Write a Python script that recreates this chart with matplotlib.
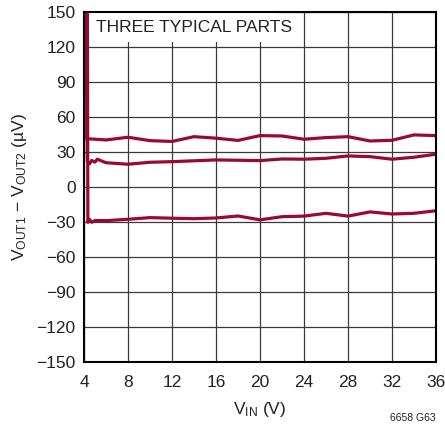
import matplotlib
matplotlib.use("Agg")
import matplotlib.pyplot as plt
from matplotlib.patches import Rectangle

plt.rcParams['font.family'] = ['Liberation Sans Narrow', 'Liberation Sans', 'DejaVu Sans']

# data (VIN in V, offset in uV)
vin_a = [4.2, 4.25, 4.5, 6, 8, 10, 12, 14, 16, 18, 20, 22, 24, 26, 28, 30, 32, 34, 36]
part_a = [170, 41, 41.4, 40.5, 42.8, 39.9, 39.2, 43.3, 42.0, 40.1, 44.2, 43.9, 41.1,
          42.5, 43.3, 39.6, 40.2, 44.8, 44.2]

vin_b = [4.25, 4.3, 4.5, 4.7, 5.0, 5.2, 6, 8, 10, 12, 16, 20, 22, 24, 26, 28, 30, 32, 34, 36]
part_b = [170, 22, 20, 23, 21.5, 24, 21, 19.7, 21.4, 21.9, 23.4, 22.8, 24.2, 24.0,
          24.8, 26.8, 26.2, 24.0, 25.7, 28.3]

vin_c = [4.3, 4.35, 4.5, 4.7, 5.0, 6, 8, 10, 12, 14, 16, 18, 20, 22, 24, 26, 28, 30, 32, 34, 36]
part_c = [170, -30, -27.5, -30, -28.5, -28.6, -27.4, -26.0, -26.5, -26.9, -26.3, -24.6,
          -27.9, -25.2, -24.7, -22.3, -24.7, -21.1, -22.9, -22.3, -20.1]

xticks = [4, 8, 12, 16, 20, 24, 28, 32, 36]
yticks = list(range(-150, 151, 30))

red = '#990a33'

fig = plt.figure(figsize=(4.45, 4.32), dpi=100)
ax = fig.add_axes([0.1888, 0.1609, 0.7910, 0.8113])

ax.set_axisbelow(True)
ax.grid(True, color='#3a3a3a', linewidth=0.9)

# title box hides the grid behind it
ax.add_patch(Rectangle((4, 124.5), 17.6, 30, facecolor='white', edgecolor='none', zorder=1))
ax.text(5.1, 137, 'THREE TYPICAL PARTS', fontsize=12.5, va='center', ha='left', zorder=3,
        color='#222222')

for v, p in [(vin_a, part_a), (vin_b, part_b), (vin_c, part_c)]:
    ax.plot(v, p, color=red, linewidth=2.3, zorder=2, solid_joinstyle='round')

ax.set_xlim(4, 36)
ax.set_ylim(-150, 150)
ax.set_xticks(xticks)
ax.set_yticks(yticks)
ax.set_yticklabels([str(t).replace('-', '\u2212') for t in yticks])
ax.tick_params(length=0, labelsize=12.5, colors='#222222')
ax.tick_params(axis='x', pad=9)
ax.tick_params(axis='y', pad=6)

for s in ax.spines.values():
    s.set_linewidth(1.5)
    s.set_color('black')
    s.set_zorder(4)

ax.set_xlabel(r'$\mathregular{V_{IN}}$ (V)', fontsize=12.5, labelpad=7, color='#222222')
ax.set_ylabel(r'$\mathregular{V_{OUT1}}$' + ' \u2212 ' + r'$\mathregular{V_{OUT2}}$ (µV)',
              fontsize=12.5, labelpad=5, color='#222222')

fig.text(0.978, 0.02, '6658 G63', fontsize=7.5, ha='right', va='bottom', color='#222222')

fig.savefig('out.png', dpi=100)
